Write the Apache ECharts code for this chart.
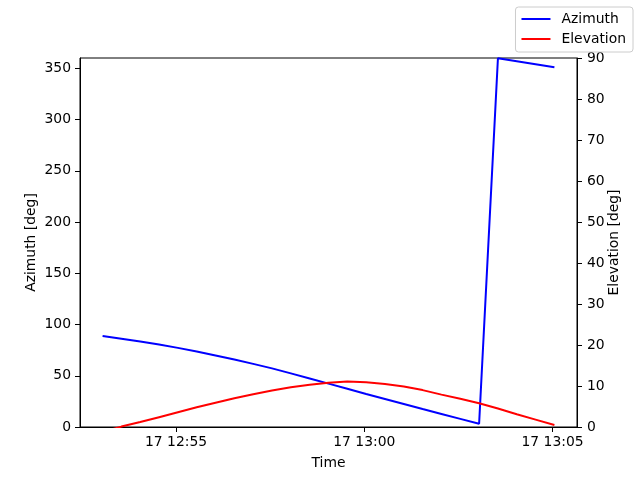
<!DOCTYPE html>
<html>
<head>
<meta charset="utf-8">
<script src="https://cdn.jsdelivr.net/npm/echarts@6/dist/echarts.min.js"></script>
<style>
  html, body { margin: 0; padding: 0; background: #fff; }
  #chart { width: 640px; height: 480px; }
</style>
</head>
<body>
<div id="chart"></div>
<script>
// 采样时间 (每 30 秒一个点, 17 日)
const times = [
  '12:53:03', '12:53:33', '12:54:03', '12:54:33', '12:55:03', '12:55:33',
  '12:56:03', '12:56:33', '12:57:03', '12:57:33', '12:58:03', '12:58:33',
  '12:59:03', '12:59:33', '13:00:03', '13:00:33', '13:01:03', '13:01:33',
  '13:02:03', '13:02:33', '13:03:03', '13:03:33', '13:04:03', '13:04:33',
  '13:05:03'
];

// 方位角 [deg]
const azimuth = [
  88.7, 86.2, 83.5, 80.5, 77.2, 73.6, 69.8, 65.8, 61.6, 57.2,
  52.3, 47.3, 42.3, 37.3, 32.2, 27.3, 22.4, 17.5, 12.7, 7.9,
  3.1, 359.7, 356.8, 353.9, 351.0
];

// 仰角 [deg]
const elevation = [
  -1.2, 0.1, 1.2, 2.4, 3.6, 4.8, 5.9, 7.0, 8.0, 8.9,
  9.7, 10.3, 10.8, 11.1, 10.9, 10.5, 9.9, 9.0, 7.9, 6.9,
  5.8, 4.5, 3.1, 1.8, 0.5
];

// 坐标轴刻度
const xTicks = ['12:55:00', '13:00:00', '13:05:00'];
const xRange = ['12:52:27', '13:05:39'];
const azTicks = [0, 50, 100, 150, 200, 250, 300, 350];
const elTicks = [0, 10, 20, 30, 40, 50, 60, 70, 80, 90];

const DAY = 17;

// 时间字符串 -> 时间戳 (UTC)
function toTs(s) {
  const p = s.split(':').map(Number);
  return Date.UTC(2024, 0, DAY, p[0], p[1], p[2]);
}

function fmtTime(v) {
  const d = new Date(v);
  const hh = String(d.getUTCHours()).padStart(2, '0');
  const mm = String(d.getUTCMinutes()).padStart(2, '0');
  return d.getUTCDate() + ' ' + hh + ':' + mm;
}

const FONT = 'DejaVu Sans';
const labelStyle = { color: '#000', fontFamily: FONT, fontSize: 13.9 };

const chart = echarts.init(document.getElementById('chart'), null, { renderer: 'canvas' });

const option = {
  animation: false,
  backgroundColor: '#fff',
  textStyle: { fontFamily: FONT },
  grid: {
    left: 80, right: 63, top: 58, bottom: 53,
    show: true, borderColor: '#000', borderWidth: 1, backgroundColor: 'transparent'
  },
  legend: {
    right: 7, top: 7,
    orient: 'vertical',
    itemWidth: 29, itemHeight: 14, itemGap: 6,
    padding: [5, 7, 6, 5],
    borderColor: '#cccccc', borderWidth: 1, borderRadius: 3,
    backgroundColor: 'rgba(255,255,255,0.8)',
    // 只显示线段, 隐藏图例中的圆点
    itemStyle: { opacity: 0 },
    textStyle: { color: '#000', fontFamily: FONT, fontSize: 13.9, padding: [0, 0, 0, 6] },
    data: ['Azimuth', 'Elevation']
  },
  xAxis: {
    type: 'value',
    min: toTs(xRange[0]),
    max: toTs(xRange[1]),
    name: 'Time',
    nameLocation: 'middle',
    nameGap: 29,
    nameMoveOverlap: false,
    nameTextStyle: labelStyle,
    axisLine: { lineStyle: { color: '#000', width: 1 } },
    axisTick: { show: true, length: 5, lineStyle: { color: '#000' }, customValues: xTicks.map(toTs) },
    axisLabel: Object.assign({ margin: 8, formatter: fmtTime, customValues: xTicks.map(toTs) }, labelStyle),
    splitLine: { show: false }
  },
  yAxis: [
    {
      type: 'value',
      min: 0, max: 360,
      position: 'left',
      name: 'Azimuth [deg]',
      nameLocation: 'middle',
      nameRotate: 90,
      nameGap: 42,
      nameMoveOverlap: false,
      nameTextStyle: labelStyle,
      axisLine: { show: true, lineStyle: { color: '#000', width: 1 } },
      axisTick: { show: true, length: 5, lineStyle: { color: '#000' }, customValues: azTicks },
      axisLabel: Object.assign({ margin: 9, customValues: azTicks }, labelStyle),
      splitLine: { show: false }
    },
    {
      type: 'value',
      min: 0, max: 90, interval: 10,
      position: 'right',
      name: 'Elevation [deg]',
      nameLocation: 'middle',
      nameRotate: 90,
      nameGap: 30,
      nameMoveOverlap: false,
      nameTextStyle: labelStyle,
      axisLine: { show: true, lineStyle: { color: '#000', width: 1 } },
      axisTick: { show: true, length: 5, lineStyle: { color: '#000' }, customValues: elTicks },
      axisLabel: Object.assign({ margin: 10, customValues: elTicks }, labelStyle),
      splitLine: { show: false }
    }
  ],
  series: [
    {
      name: 'Azimuth',
      type: 'line',
      yAxisIndex: 0,
      symbol: 'none',
      clip: true,
      lineStyle: { color: '#0000ff', width: 2 },
      itemStyle: { color: '#0000ff' },
      data: times.map((t, i) => [toTs(t), azimuth[i]])
    },
    {
      name: 'Elevation',
      type: 'line',
      yAxisIndex: 1,
      symbol: 'none',
      clip: true,
      lineStyle: { color: '#ff0000', width: 2 },
      itemStyle: { color: '#ff0000' },
      data: times.map((t, i) => [toTs(t), elevation[i]])
    }
  ]
};

chart.setOption(option);
</script>
</body>
</html>
